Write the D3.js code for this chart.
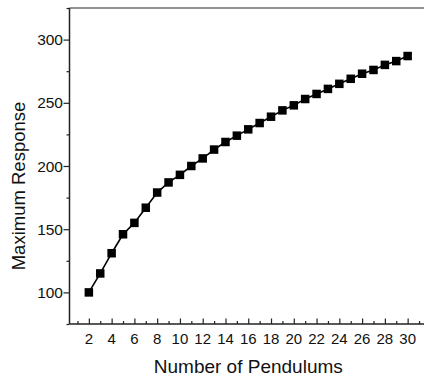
<!DOCTYPE html>
<html>
<head>
<meta charset="utf-8">
<script src="https://cdn.jsdelivr.net/npm/d3@7/dist/d3.min.js"></script>
<style>
  html, body { margin: 0; padding: 0; background: #fff; }
  svg { display: block; }
  text { font-family: "Liberation Sans", Arial, sans-serif; fill: #111; }
</style>
</head>
<body>
<svg id="chart" width="424" height="380"></svg>
<script>
// Number of pendulums and the maximum response for each
const pendulums = [2, 3, 4, 5, 6, 7, 8, 9, 10, 11, 12, 13, 14, 15, 16,
  17, 18, 19, 20, 21, 22, 23, 24, 25, 26, 27, 28, 29, 30];
const maxResponse = [100, 115, 131, 146, 155, 167, 179, 187, 193, 200, 206, 213, 219, 224, 229,
  234, 239, 244, 248, 253, 257, 261, 265, 269, 273, 276, 280, 283, 287];

const xMajorTicks = [2, 4, 6, 8, 10, 12, 14, 16, 18, 20, 22, 24, 26, 28, 30];
const xMinorTicks = [1, 3, 5, 7, 9, 11, 13, 15, 17, 19, 21, 23, 25, 27, 29, 31];
const yMajorTicks = [100, 150, 200, 250, 300];
const yMinorTicks = [75, 125, 175, 225, 275, 325];

const xTitle = "Number of Pendulums";
const yTitle = "Maximum Response";

const svg = d3.select("#chart");
const plotL = 69.5, plotR = 427, plotT = 8, plotB = 324;

const x = d3.scaleLinear().domain([0.3, 31.7]).range([plotL, plotR]);
const y = d3.scaleLinear().domain([75, 325]).range([plotB, plotT]);

// frame top edge
svg.append("line")
  .attr("x1", plotL).attr("x2", plotR)
  .attr("y1", plotT).attr("y2", plotT)
  .attr("stroke", "#6e6e6e").attr("stroke-width", 1.6);

// x axis: ticks point into the plot
const gx = svg.append("g").attr("transform", `translate(0,${plotB})`);
gx.call(d3.axisTop(x).tickValues(xMinorTicks).tickSize(3).tickFormat(""))
  .call(g => g.select(".domain").remove());
gx.append("g")
  .call(d3.axisTop(x).tickValues(xMajorTicks).tickSize(5.5).tickFormat(""))
  .call(g => g.select(".domain").remove());
gx.selectAll(".tick line").attr("stroke", "#222").attr("stroke-width", 1.2);
gx.selectAll(".xlabel")
  .data(xMajorTicks)
  .enter().append("text")
  .attr("class", "xlabel")
  .attr("x", d => x(d))
  .attr("y", 20)
  .attr("text-anchor", "middle")
  .attr("font-size", 15)
  .text(d => d);
gx.append("line")
  .attr("x1", plotL).attr("x2", plotR)
  .attr("stroke", "#222").attr("stroke-width", 1.5);

// y axis: ticks point outward
const gy = svg.append("g").attr("transform", `translate(${plotL},0)`);
gy.call(d3.axisLeft(y).tickValues(yMinorTicks).tickSize(3).tickFormat(""))
  .call(g => g.select(".domain").remove());
gy.append("g")
  .call(d3.axisLeft(y).tickValues(yMajorTicks).tickSize(6).tickFormat(""))
  .call(g => g.select(".domain").remove());
gy.selectAll(".tick line").attr("stroke", "#222").attr("stroke-width", 1.2);
gy.selectAll(".ylabel")
  .data(yMajorTicks)
  .enter().append("text")
  .attr("class", "ylabel")
  .attr("x", -6.5)
  .attr("y", d => y(d))
  .attr("dy", "0.36em")
  .attr("text-anchor", "end")
  .attr("font-size", 15.5)
  .text(d => d);
gy.append("line")
  .attr("y1", plotT).attr("y2", plotB)
  .attr("stroke", "#222").attr("stroke-width", 1.5);

// axis titles
svg.append("text")
  .attr("x", 248.3).attr("y", 372.5)
  .attr("text-anchor", "middle")
  .attr("font-size", 19)
  .text(xTitle);
svg.append("text")
  .attr("transform", "translate(24.5,186) rotate(-90)")
  .attr("text-anchor", "middle")
  .attr("font-size", 18.5)
  .text(yTitle);

// series line and square markers
const pts = pendulums.map((p, i) => [p, maxResponse[i]]);
svg.append("path")
  .datum(pts)
  .attr("fill", "none")
  .attr("stroke", "#000")
  .attr("stroke-width", 1.6)
  .attr("d", d3.line().x(d => x(d[0])).y(d => y(d[1])));

const s = 8.5;
svg.selectAll(".pt")
  .data(pts)
  .enter().append("rect")
  .attr("class", "pt")
  .attr("x", d => x(d[0]) - s / 2)
  .attr("y", d => y(d[1]) - s / 2)
  .attr("width", s).attr("height", s)
  .attr("fill", "#000");
</script>
</body>
</html>
